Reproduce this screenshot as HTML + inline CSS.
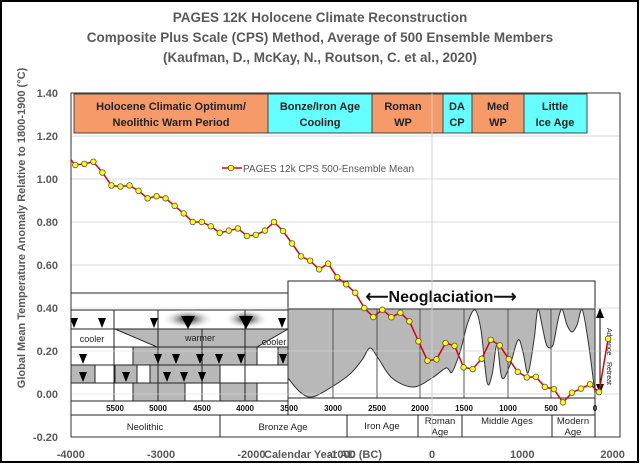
<!DOCTYPE html>
<html><head><meta charset="utf-8"><style>
html,body{margin:0;padding:0;background:#fff}
svg{display:block}
text{font-family:"Liberation Sans",sans-serif}
</style></head><body>
<svg id="chart" width="640" height="464" viewBox="0 0 640 464" xmlns="http://www.w3.org/2000/svg">
<rect x="1" y="1" width="637" height="461" fill="#fff" stroke="#000" stroke-width="2"/>
<g font-weight="bold" fill="#595959" font-size="13.5" text-anchor="middle">
<text x="320" y="22">PAGES 12K Holocene Climate Reconstruction</text>
<text x="320" y="42">Composite Plus Scale (CPS) Method, Average of 500 Ensemble Members</text>
<text x="320" y="62">(Kaufman, D., McKay, N., Routson, C. et al., 2020)</text>
</g>
<text transform="translate(25,228) rotate(-90)" text-anchor="middle" font-size="11" font-weight="bold" fill="#595959">Global Mean  Temperature Anomaly Relative to 1800-1900 (°C)</text>
<g id="grid"></g>
<g id="yticks"></g>
<g id="xticks"></g>
<text x="323" y="458" text-anchor="middle" font-size="11" font-weight="bold" fill="#595959">Calendar Year AD (BC)</text>

<g font-size="11" font-weight="bold" fill="#222" text-anchor="middle" stroke="none">
<rect x="74" y="94" width="194" height="39" fill="#f79a6a" stroke="#444"/>
<text x="171" y="110">Holocene Climatic Optimum/</text><text x="171" y="126">Neolithic Warm Period</text>
<rect x="268" y="94" width="104" height="39" fill="#66ffff" stroke="#444"/>
<text x="320" y="110">Bonze/Iron Age</text><text x="320" y="126">Cooling</text>
<rect x="372" y="94" width="71" height="39" fill="#f79a6a" stroke="#444"/>
<text x="403" y="110">Roman</text><text x="403" y="126">WP</text>
<rect x="443" y="94" width="29" height="39" fill="#66ffff" stroke="#444"/>
<text x="457" y="110">DA</text><text x="457" y="126">CP</text>
<rect x="472" y="94" width="52" height="39" fill="#f79a6a" stroke="#444"/>
<text x="498" y="110">Med</text><text x="498" y="126">WP</text>
<rect x="524" y="94" width="63" height="39" fill="#66ffff" stroke="#444"/>
<text x="555" y="110">Little</text><text x="555" y="126">Ice Age</text>
</g>

<g stroke="#222" stroke-width="1">
<rect x="71" y="293" width="217" height="144" fill="#fff"/>
<rect x="71" y="293" width="217" height="17" fill="#fff"/>
<rect x="288" y="281" width="307" height="28" fill="#fff"/>
<text x="441" y="302" text-anchor="middle" font-size="16" font-weight="bold" fill="#111" stroke="none">⟵Neoglaciation⟶</text>
<defs><radialGradient id="blob"><stop offset="0" stop-color="#000"/><stop offset="1" stop-color="#fff" stop-opacity="0"/></radialGradient></defs>
<rect x="71" y="310" width="217" height="19" fill="#fff"/>
<ellipse cx="188" cy="319" rx="26" ry="10" fill="url(#blob)" stroke="none"/>
<ellipse cx="246" cy="319" rx="22" ry="10" fill="url(#blob)" stroke="none"/>
<rect x="71" y="329" width="217" height="18" fill="#fff"/>
<polygon points="115,329 288,329 257,347 157,347" fill="#b8b8b8"/>
<text x="92" y="342" font-size="9" text-anchor="middle" fill="#222" stroke="none">cooler</text>
<text x="200" y="341" font-size="9" text-anchor="middle" fill="#222" stroke="none">warmer</text>
<text x="274" y="345" font-size="9" text-anchor="middle" fill="#222" stroke="none">cooler</text>
<rect x="71" y="347" width="217" height="18" fill="#fff"/>
<rect x="133" y="347" width="124" height="18" fill="#b8b8b8"/>
<rect x="278" y="347" width="10" height="18" fill="#b8b8b8"/>
<rect x="71" y="365" width="217" height="18" fill="#fff"/>
<rect x="71" y="365" width="24" height="18" fill="#b8b8b8"/>
<rect x="115" y="365" width="22" height="18" fill="#b8b8b8"/>
<rect x="150" y="365" width="70" height="18" fill="#b8b8b8"/>
<rect x="71" y="383" width="217" height="18" fill="#fff"/>
<rect x="133" y="383" width="52" height="18" fill="#b8b8b8"/>
<rect x="220" y="383" width="37" height="18" fill="#b8b8b8"/>
<line x1="158" y1="310" x2="158" y2="404"/><line x1="202" y1="329" x2="202" y2="404"/><line x1="245" y1="310" x2="245" y2="404"/><line x1="114" y1="310" x2="114" y2="404"/>
<g fill="#000" stroke="none">
<polygon points="70,318 78,318 74,328"/><polygon points="98,318 106,318 102,328"/><polygon points="150,318 158,318 154,328"/>
<polygon points="181,316 195,316 188,329"/><polygon points="239,316 253,316 246,329"/><polygon points="278,318 286,318 282,328"/>
<polygon points="79,354 87,354 83,364"/><polygon points="154,354 162,354 158,364"/><polygon points="172,354 180,354 176,364"/><polygon points="196,354 204,354 200,364"/><polygon points="215,354 223,354 219,364"/><polygon points="237,354 245,354 241,364"/><polygon points="279,354 287,354 283,364"/>
<polygon points="79,372 87,372 83,382"/><polygon points="122,372 130,372 126,382"/><polygon points="163,372 171,372 167,382"/><polygon points="180,372 188,372 184,382"/><polygon points="198,372 206,372 202,382"/>
</g>
<path id="glacier" fill="#b8b8b8" stroke="#333"/>
<line x1="333" y1="309" x2="333" y2="398" stroke="#555"/><line x1="377" y1="309" x2="377" y2="398" stroke="#555"/><line x1="420" y1="309" x2="420" y2="398" stroke="#555"/><line x1="464" y1="309" x2="464" y2="398" stroke="#555"/><line x1="508" y1="309" x2="508" y2="398" stroke="#555"/><line x1="551" y1="309" x2="551" y2="398" stroke="#555"/>
<rect x="288" y="309" width="307" height="89" fill="none" stroke="#333"/>
<rect x="288" y="398" width="307" height="17" fill="#fff"/>
<rect x="71" y="401" width="217" height="14" fill="#fff"/>
<g font-size="8" font-weight="bold" fill="#111" stroke="none" text-anchor="middle">
<text x="115" y="411">5500</text><text x="158" y="411">5000</text><text x="202" y="411">4500</text><text x="245" y="411">4000</text><text x="289" y="411">3500</text><text x="333" y="411">3000</text><text x="377" y="411">2500</text><text x="420" y="411">2000</text><text x="464" y="411">1500</text><text x="508" y="411">1000</text><text x="551" y="411">500</text><text x="595" y="411">0</text>
</g>
<g fill="#fff">
<rect x="71" y="415" width="149" height="22"/><rect x="220" y="415" width="127" height="22"/><rect x="347" y="415" width="71" height="22"/><rect x="418" y="415" width="44" height="22"/><rect x="462" y="415" width="90" height="22"/><rect x="552" y="415" width="43" height="22"/>
</g>
<g font-size="9.5" fill="#222" stroke="none" text-anchor="middle">
<text x="145" y="430">Neolithic</text><text x="283" y="430">Bronze Age</text><text x="382" y="429">Iron Age</text><text x="440" y="424">Roman</text><text x="440" y="435">Age</text><text x="507" y="424">Middle Ages</text><text x="573" y="424">Modern</text><text x="573" y="435">Age</text>
</g>
<g>
<line x1="600" y1="312" x2="600" y2="392" stroke="#000"/>
<polygon points="596,318 604,318 600,308" fill="#000" stroke="none"/><polygon points="596,384 604,384 600,394" fill="#000" stroke="none"/>
<text transform="translate(607,328) rotate(90)" font-size="7" fill="#222" stroke="none">Advance</text>
<text transform="translate(607,362) rotate(90)" font-size="7" fill="#222" stroke="none">Retreat</text>
</g>
</g>
<g id="gridover"></g>
<rect x="71" y="93" width="549" height="344" fill="none" stroke="#333" stroke-width="1"/>
<g id="series"></g>
<g>
<line x1="222" y1="168" x2="242" y2="168" stroke="#e00000" stroke-width="1.5"/>
<circle cx="231" cy="168" r="2.8" fill="#ffff00" stroke="#555" stroke-width="0.8"/>
<text x="243" y="172" font-size="10" fill="#595959">PAGES 12k CPS 500-Ensemble Mean</text>
</g>
</svg>
<script>
const years = [-4000,-3950,-3850,-3750,-3650,-3550,-3450,-3350,-3250,-3150,-3050,-2950,-2850,-2750,-2650,-2550,-2450,-2350,-2250,-2150,-2050,-1950,-1850,-1750,-1650,-1550,-1450,-1350,-1250,-1150,-1050,-950,-850,-750,-650,-550,-450,-350,-250,-150,-50,50,150,250,350,450,550,650,750,850,950,1050,1150,1250,1350,1450,1550,1650,1750,1850,1950];
const temps = [1.09,1.065,1.07,1.08,1.03,0.97,0.965,0.97,0.945,0.91,0.92,0.91,0.875,0.84,0.80,0.80,0.78,0.75,0.76,0.77,0.735,0.74,0.76,0.80,0.758,0.70,0.64,0.62,0.58,0.606,0.543,0.51,0.471,0.40,0.358,0.392,0.357,0.378,0.338,0.245,0.155,0.161,0.237,0.224,0.124,0.116,0.164,0.252,0.226,0.162,0.103,0.077,0.080,0.033,0.023,-0.039,0.006,0.025,0.045,0.009,0.257];
const yTicks = [-0.2,0,0.2,0.4,0.6,0.8,1.0,1.2,1.4];
const yTickLabels = ["-0.20","0.00","0.20","0.40","0.60","0.80","1.00","1.20","1.40"];
const xTicks = [-4000,-3000,-2000,-1000,0,1000,2000];
const xTickLabels = ["-4000","-3000","-2000","-1000","0","1000","2000"];

const NS = "http://www.w3.org/2000/svg";
function xs(v){return 432 + v*0.0903;}
function ys(v){return 394 - v*215;}
function mk(tag, attrs, parent){const e=document.createElementNS(NS,tag);for(const k in attrs)e.setAttribute(k,attrs[k]);parent.appendChild(e);return e;}

// glacier illustration outline (decorative, from inset image)
const gl=[[288,378],[300,392],[312,397],[330,388],[350,374],[362,360],[370,348],[378,358],[392,378],[413,387],[432,378],[446,368],[452,372],[460,352],[468,322],[475,310],[481,330],[487,382],[492,375],[497,345],[502,378],[510,365],[518,340],[523,352],[528,373],[534,340],[538,309],[543,330],[547,346],[553,345],[558,320],[562,309],[567,325],[572,332],[577,325],[582,309],[588,340],[595,393]];
function smooth(p){let d='M'+p[0][0]+','+p[0][1];for(let i=0;i<p.length-1;i++){const a=p[Math.max(i-1,0)],b=p[i],c=p[i+1],e=p[Math.min(i+2,p.length-1)];const c1=[b[0]+(c[0]-a[0])/6,b[1]+(c[1]-a[1])/6],c2=[c[0]-(e[0]-b[0])/6,c[1]-(e[1]-b[1])/6];d+=' C'+c1[0].toFixed(1)+','+Math.max(309,c1[1]).toFixed(1)+' '+c2[0].toFixed(1)+','+Math.max(309,c2[1]).toFixed(1)+' '+c[0]+','+c[1];}return d;}
document.getElementById('glacier').setAttribute('d','M288,309 L595,309 L595,393 '+smooth(gl.slice().reverse()).replace(/^M[^C]*/,'')+' Z');

const grid=document.getElementById('grid'), gover=document.getElementById('gridover');
yTicks.forEach((t,i)=>{
  const l=mk('line',{x1:71,x2:620,y1:ys(t),y2:ys(t),stroke:'#d9d9d9','stroke-width':1},grid);
  
  
  const l2=mk('line',{x1:71,x2:620,y1:ys(t),y2:ys(t),stroke:'#ddd','stroke-width':1,opacity:0.5},gover);
  
  
  const tx=mk('text',{x:58,y:ys(t)+4,'text-anchor':'end','font-size':11,'font-weight':'bold',fill:'#595959'},document.getElementById('yticks'));
  tx.textContent=yTickLabels[i];
  
  
});
const vz=mk('line',{x1:xs(0),x2:xs(0),y1:93,y2:437,stroke:'#d0d0d0'},gover);


xTicks.forEach((t,i)=>{
  const tx=mk('text',{x:xs(t),y:458,'text-anchor':'middle','font-size':11,'font-weight':'bold',fill:'#595959'},document.getElementById('xticks'));
  tx.textContent=xTickLabels[i];
  
  
});
const sg=document.getElementById('series');
const pts=years.map((y,i)=>xs(y).toFixed(1)+','+ys(temps[i]).toFixed(1)).join(' ');
const pl=mk('polyline',{points:pts,fill:'none',stroke:'#e00000','stroke-width':1.5},sg);


years.forEach((y,i)=>{
  if(i===0) return;
  const c=mk('circle',{cx:xs(y),cy:ys(temps[i]),r:2.8,fill:'#ffff00',stroke:'#555','stroke-width':0.8},sg);
  
  
});
</script>
</body></html>
